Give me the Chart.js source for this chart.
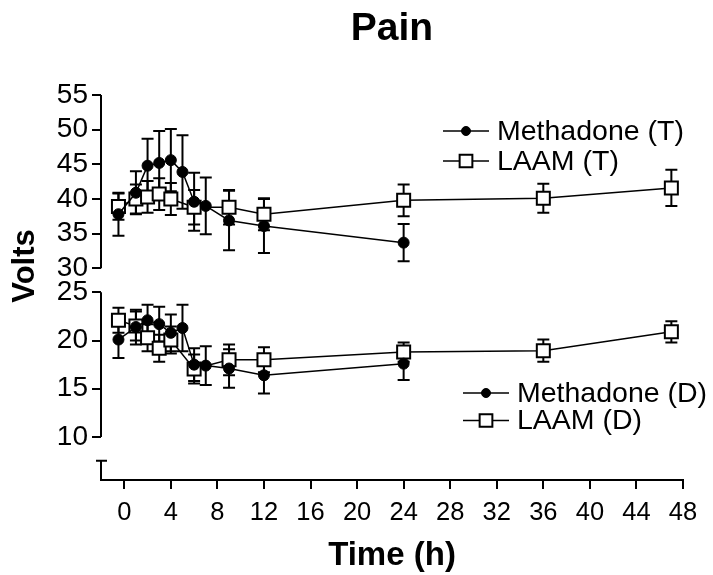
<!DOCTYPE html>
<html>
<head>
<meta charset="utf-8">
<script src="https://cdn.jsdelivr.net/npm/chart.js@4/dist/chart.umd.min.js"></script>
<style>
  html, body { margin: 0; padding: 0; background: #fff; }
</style>
</head>
<body>
<canvas id="painChart" width="713" height="575"></canvas>
<script>
// x ticks (hours) and the two y-axis segments
const xTicks = [0, 4, 8, 12, 16, 20, 24, 28, 32, 36, 40, 44, 48];
const upperTicks = [30, 35, 40, 45, 50, 55];
const lowerTicks = [10, 15, 20, 25];

const methadoneTimes = [-0.5, 1, 2, 3, 4, 5, 6, 7, 9, 12, 24];
const laamTimes = [-0.5, 1, 2, 3, 4, 6, 9, 12, 24, 36, 47];

// threshold (T) - upper segment
const methadoneT = [37.8, 40.9, 44.8, 45.2, 45.6, 43.9, 39.6, 39.0, 36.9, 36.1, 33.7];
const methadoneTErr = [3.1, 3.1, 3.9, 4.6, 4.5, 5.3, 4.2, 4.1, 4.3, 3.9, 2.7];
const laamT = [38.9, 40.0, 40.3, 40.7, 40.0, 38.8, 38.8, 37.8, 39.8, 40.1, 41.6];
const laamTErr = [1.9, 2.1, 2.3, 2.3, 2.3, 2.5, 2.5, 2.3, 2.3, 2.1, 2.6];

// detection (D) - lower segment
const methadoneD = [20.1, 21.4, 22.1, 21.7, 20.8, 21.3, 17.5, 17.4, 17.1, 16.4, 17.6];
const methadoneDErr = [1.9, 1.8, 1.6, 1.8, 1.9, 2.4, 1.7, 2.0, 2.0, 1.9, 1.7];
const laamD = [22.1, 21.5, 20.3, 19.2, 20.05, 17.05, 18.0, 18.0, 18.8, 18.95, 20.9];
const laamDErr = [1.3, 1.5, 1.4, 1.4, 1.4, 1.5, 1.6, 1.3, 1.0, 1.15, 1.1];

Chart.defaults.font.family = "'Liberation Sans', Arial, sans-serif";
Chart.defaults.color = "#000";

const toPoints = (xs, ys) => xs.map((x, i) => ({ x, y: ys[i] }));

const circleStyle = { pointStyle: "circle", pointRadius: 5.5, pointBackgroundColor: "#000", pointBorderColor: "#000", pointBorderWidth: 1 };
const squareStyle = { pointStyle: "rect", pointRadius: 9.2, pointBackgroundColor: "#fff", pointBorderColor: "#000", pointBorderWidth: 2 };

function series(label, xs, ys, errs, yAxisID, style) {
  return {
    label,
    data: toPoints(xs, ys),
    errors: errs,
    yAxisID,
    borderColor: "#000",
    borderWidth: 1.5,
    tension: 0,
    ...style,
  };
}

// methadone first so the circles sit on top of the squares
const datasets = [
  series("Methadone (T)", methadoneTimes, methadoneT, methadoneTErr, "yTop", circleStyle),
  series("Methadone (D)", methadoneTimes, methadoneD, methadoneDErr, "yBot", circleStyle),
  series("LAAM (T)", laamTimes, laamT, laamTErr, "yTop", squareStyle),
  series("LAAM (D)", laamTimes, laamD, laamDErr, "yBot", squareStyle),
];

const CAP = 6;

const brokenAxisPlugin = {
  id: "brokenAxis",
  beforeDatasetsDraw(chart) {
    const { ctx, scales } = chart;
    ctx.save();
    ctx.strokeStyle = "#000";
    ctx.lineWidth = 2;
    chart.data.datasets.forEach((ds, i) => {
      const meta = chart.getDatasetMeta(i);
      const yScale = scales[ds.yAxisID];
      meta.data.forEach((pt, j) => {
        const v = ds.data[j].y;
        const e = ds.errors[j];
        const top = yScale.getPixelForValue(v + e);
        const bot = yScale.getPixelForValue(v - e);
        ctx.beginPath();
        ctx.moveTo(pt.x, top);
        ctx.lineTo(pt.x, bot);
        ctx.moveTo(pt.x - CAP, top);
        ctx.lineTo(pt.x + CAP, top);
        ctx.moveTo(pt.x - CAP, bot);
        ctx.lineTo(pt.x + CAP, bot);
        ctx.stroke();
      });
    });
    ctx.restore();
  },
  afterDraw(chart) {
    const { ctx, scales } = chart;
    const ax = Math.round(scales.yTop.right);
    ctx.save();
    ctx.strokeStyle = "#000";
    ctx.lineWidth = 2;
    ctx.beginPath();
    ctx.moveTo(ax, scales.yTop.getPixelForValue(55));
    ctx.lineTo(ax, scales.yTop.getPixelForValue(30));
    ctx.moveTo(ax, scales.yBot.getPixelForValue(25));
    ctx.lineTo(ax, scales.yBot.getPixelForValue(10));
    const baseTop = scales.yBase.getPixelForValue(2.5);
    ctx.moveTo(ax, scales.yBase.getPixelForValue(0));
    ctx.lineTo(ax, baseTop);
    ctx.moveTo(ax - 5, baseTop);
    ctx.lineTo(ax + 6, baseTop);
    ctx.stroke();

    // y-axis title spanning both segments
    const midY = (scales.yTop.getPixelForValue(55) + scales.yBot.getPixelForValue(10)) / 2;
    ctx.translate(25, midY);
    ctx.rotate(-Math.PI / 2);
    ctx.fillStyle = "#000";
    ctx.font = "bold 31px 'Liberation Sans', Arial, sans-serif";
    ctx.textAlign = "center";
    ctx.textBaseline = "middle";
    ctx.fillText("Volts", 0, 0);
    ctx.restore();
  },
};

// two legend blocks, one per axis segment
const splitLegendPlugin = {
  id: "splitLegend",
  afterDraw(chart, args, opts) {
    const { ctx } = chart;
    ctx.save();
    ctx.font = "28.5px 'Liberation Sans', Arial, sans-serif";
    ctx.textBaseline = "middle";
    ctx.fillStyle = "#000";
    opts.blocks.forEach((block) => {
      block.labels.forEach((label, k) => {
        const ds = chart.data.datasets.find((d) => d.label === label);
        const y = block.y + k * block.gap;
        ctx.strokeStyle = "#000";
        ctx.lineWidth = 1.5;
        ctx.beginPath();
        ctx.moveTo(block.x, y);
        ctx.lineTo(block.x + 46, y);
        ctx.stroke();
        const isRect = ds.pointStyle === "rect";
        ctx.fillStyle = ds.pointBackgroundColor;
        ctx.lineWidth = ds.pointBorderWidth;
        Chart.helpers.drawPoint(ctx, { pointStyle: ds.pointStyle, radius: isRect ? 9 : 4.5, rotation: 0, borderWidth: ds.pointBorderWidth }, block.x + 23, y);
        ctx.fillStyle = "#000";
        ctx.fillText(label, block.x + 54, y + 1);
      });
    });
    ctx.restore();
  },
};

new Chart(document.getElementById("painChart"), {
  type: "line",
  data: { datasets },
  options: {
    responsive: false,
    animation: false,
    layout: { padding: { top: 0, right: 30, bottom: 0, left: 0 } },
    plugins: {
      legend: { display: false },
      tooltip: { enabled: false },
      title: {
        display: true,
        text: "Pain",
        fullSize: false,
        color: "#000",
        font: { size: 39, weight: "bold" },
        padding: { top: 6, bottom: 42.2 },
      },
      splitLegend: {
        blocks: [
          { x: 443, y: 131, gap: 30, labels: ["Methadone (T)", "LAAM (T)"] },
          { x: 463, y: 393, gap: 27.5, labels: ["Methadone (D)", "LAAM (D)"] },
        ],
      },
    },
    scales: {
      x: {
        type: "linear",
        min: -2,
        max: 48,
        afterBuildTicks: (s) => { s.ticks = xTicks.map((value) => ({ value })); },
        afterFit: (s) => { s.height = 95; },
        grid: { drawOnChartArea: false, color: "#000", lineWidth: 2, tickLength: 9 },
        border: { color: "#000", width: 2 },
        ticks: { color: "#000", font: { size: 25.5 }, padding: 9, maxRotation: 0, autoSkip: false },
        title: { display: true, text: "Time (h)", color: "#000", font: { size: 33, weight: "bold" }, padding: { top: 0, bottom: -1 } },
      },
      yBase: {
        type: "linear",
        position: "left",
        stack: "volts",
        stackWeight: 31,
        min: 0,
        max: 4,
        afterFit: (s) => { s.width = 101; },
        grid: { display: false },
        border: { display: false },
        ticks: { display: false },
      },
      yBot: {
        type: "linear",
        position: "left",
        stack: "volts",
        stackWeight: 169,
        min: 8.756,
        max: 26.275,
        afterBuildTicks: (s) => { s.ticks = lowerTicks.map((value) => ({ value })); },
        afterFit: (s) => { s.width = 101; },
        grid: { drawOnChartArea: false, color: "#000", lineWidth: 2, tickLength: 9 },
        border: { display: false },
        ticks: { color: "#000", font: { size: 28 }, padding: 4, autoSkip: false },
      },
      yTop: {
        type: "linear",
        position: "left",
        stack: "volts",
        stackWeight: 185,
        min: 28.31,
        max: 55,
        afterBuildTicks: (s) => { s.ticks = upperTicks.map((value) => ({ value })); },
        afterFit: (s) => { s.width = 101; },
        grid: { drawOnChartArea: false, color: "#000", lineWidth: 2, tickLength: 9 },
        border: { display: false },
        ticks: { color: "#000", font: { size: 28 }, padding: 4, autoSkip: false },
      },
    },
  },
  plugins: [brokenAxisPlugin, splitLegendPlugin],
});
</script>
</body>
</html>
